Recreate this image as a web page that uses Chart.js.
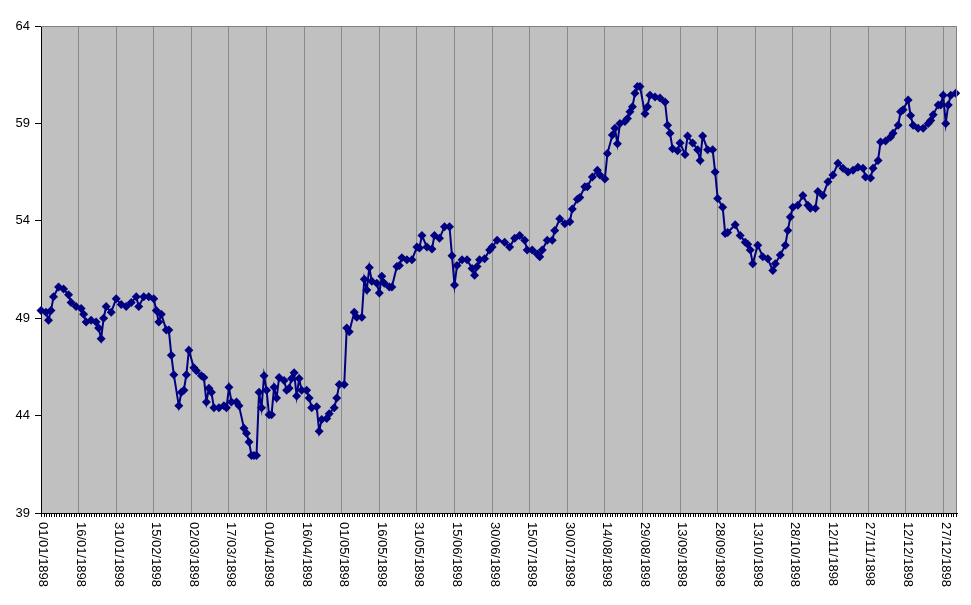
<!DOCTYPE html>
<html>
<head>
<meta charset="utf-8">
<script src="https://cdn.jsdelivr.net/npm/chart.js@4/dist/chart.umd.min.js"></script>
<style>
html,body{margin:0;padding:0;background:#fff;}
canvas{display:block;}
</style>
</head>
<body>
<canvas id="c" width="971" height="605"></canvas>
<script>
// Day of year (0 = 01/01/1898) for each observation
const days = [
  0,2,3,4,5,7,9,11,12,14,16,17,18,20,22,23,24,25,26,28,30,32,34,36,38,39,41,43,45,46,47,48,50,51,
  52,53,55,56,57,58,59,61,62,64,65,66,67,68,69,71,73,74,75,76,78,79,81,82,83,84,85,86,87,88,89,90,
  91,92,93,94,95,97,98,99,100,101,102,103,104,106,107,108,110,111,112,114,115,117,118,119,121,122,
  123,125,126,128,129,130,131,132,134,135,136,137,139,140,142,143,144,146,148,150,151,152,154,156,
  157,159,161,163,164,165,166,168,170,172,173,174,175,177,179,180,182,185,187,189,191,193,194,196,
  198,199,200,202,204,205,207,209,211,212,214,215,217,218,220,222,223,225,226,228,229,230,231,233,
  234,235,236,237,238,239,241,242,243,245,247,249,250,251,252,254,255,257,258,260,262,263,264,266,
  268,269,270,272,273,274,277,279,281,282,283,284,286,288,290,292,293,295,297,298,299,300,302,304,
  306,307,309,310,312,314,316,318,320,322,324,326,328,329,331,332,334,335,337,339,340,342,343,344,
  346,347,348,350,352,354,355,356,358,359,360,361,362,363,365
];
const values = [
  49.4,49.3,48.9,49.4,50.1,50.6,50.5,50.2,49.8,49.6,49.5,49.2,48.8,48.9,48.8,48.5,47.95,49.0,49.6,49.3,50.0,49.7,49.6,49.8,50.1,49.6,50.1,50.1,50.0,49.4,48.8,49.2,48.4,48.4,
  47.1,46.1,44.5,45.2,45.3,46.1,47.35,46.45,46.3,46.05,45.95,44.7,45.4,45.2,44.4,44.4,44.5,44.4,45.45,44.7,44.7,44.5,43.35,43.1,42.65,41.95,41.95,41.95,45.2,44.4,46.05,45.3,
  44.05,44.05,45.45,44.9,45.95,45.8,45.3,45.4,45.9,46.2,45.0,45.9,45.3,45.3,44.9,44.4,44.45,43.2,43.8,43.85,44.1,44.4,44.9,45.6,45.6,48.5,
  48.3,49.3,49.05,49.05,51.0,50.45,51.6,50.9,50.8,50.3,51.15,50.8,50.6,50.6,51.65,51.7,52.1,52.0,52.0,52.65,52.6,53.25,52.65,52.55,
  53.25,53.1,53.7,53.7,52.2,50.7,51.7,52.0,52.0,51.55,51.2,51.65,52.0,52.05,52.5,52.65,53.0,52.9,52.65,53.1,53.25,53.0,52.5,52.5,
  52.3,52.15,52.5,53.0,53.0,53.5,54.1,53.85,53.95,54.6,55.1,55.2,55.75,55.75,56.25,56.6,56.35,56.15,57.45,58.4,58.75,57.95,59.0,59.1,
  59.25,59.6,59.85,60.55,60.9,60.9,59.5,59.85,60.45,60.35,60.3,60.1,58.9,58.5,57.7,57.6,58.0,57.4,58.35,58.0,57.65,57.1,58.35,57.65,
  57.65,56.5,55.15,54.7,53.35,53.4,53.8,53.25,52.9,52.8,52.5,51.8,52.75,52.15,52.05,51.45,51.8,52.25,52.75,53.5,54.2,54.7,54.8,55.3,
  54.8,54.65,54.65,55.5,55.3,56.0,56.35,56.95,56.7,56.5,56.6,56.75,56.7,56.25,56.2,56.7,57.1,58.05,58.1,58.3,58.5,58.9,59.6,59.7,
  60.2,59.4,58.9,58.75,58.75,59.0,59.15,59.45,59.95,59.95,60.45,59.0,59.95,60.45,60.55
];
const tickDays = [0,15,30,45,60,75,90,105,120,135,150,165,180,195,210,225,240,255,270,285,300,315,330,345,360];
const tickLabels = [
  '01/01/1898','16/01/1898','31/01/1898','15/02/1898','02/03/1898','17/03/1898','01/04/1898',
  '16/04/1898','01/05/1898','16/05/1898','31/05/1898','15/06/1898','30/06/1898','15/07/1898',
  '30/07/1898','14/08/1898','29/08/1898','13/09/1898','28/09/1898','13/10/1898','28/10/1898',
  '12/11/1898','27/11/1898','12/12/1898','27/12/1898'
];
const yTicks = [39,44,49,54,59,64];

const FONT = "'Liberation Sans', Arial, sans-serif";

const excelPlugin = {
  id: 'excelFrame',
  beforeDraw(chart) {
    const {ctx, chartArea: a} = chart;
    ctx.save();
    ctx.fillStyle = '#ffffff';
    ctx.fillRect(0, 0, chart.width, chart.height);
    ctx.fillStyle = '#C0C0C0';
    ctx.fillRect(a.left, a.top, a.right - a.left, a.bottom - a.top);
    ctx.restore();
  },
  afterDraw(chart) {
    const {ctx, chartArea: a} = chart;
    const xs = chart.scales.x;
    ctx.save();
    // gray top/right frame
    ctx.strokeStyle = '#808080';
    ctx.lineWidth = 1;
    ctx.beginPath();
    ctx.moveTo(a.left, a.top + 0.5);
    ctx.lineTo(a.right - 0.5, a.top + 0.5);
    ctx.lineTo(a.right - 0.5, a.bottom);
    ctx.stroke();
    // daily minor ticks below the x axis
    ctx.strokeStyle = '#000';
    ctx.beginPath();
    for (let d = 0; d <= 365; d++) {
      const px = Math.round(xs.getPixelForValue(d)) + 0.5;
      ctx.moveTo(px, a.bottom);
      ctx.lineTo(px, a.bottom + 4);
    }
    ctx.stroke();
    // rotated (clockwise) date labels
    ctx.fillStyle = '#000';
    ctx.font = '13px ' + FONT;
    ctx.textAlign = 'left';
    ctx.textBaseline = 'middle';
    tickDays.forEach((d, i) => {
      const px = xs.getPixelForValue(d);
      ctx.save();
      ctx.translate(px + 2, a.bottom + 9);
      ctx.rotate(Math.PI / 2);
      ctx.fillText(tickLabels[i], 0, 0);
      ctx.restore();
    });
    ctx.restore();
  }
};

new Chart(document.getElementById('c'), {
  type: 'line',
  data: {
    datasets: [{
      data: days.map((d, i) => ({x: d, y: values[i]})),
      borderColor: '#000080',
      backgroundColor: '#000080',
      borderWidth: 2,
      pointStyle: 'rectRot',
      pointRadius: 4.5,
      pointBorderWidth: 0,
      pointBackgroundColor: '#000080',
      tension: 0,
      fill: false,
      clip: 6
    }]
  },
  options: {
    responsive: false,
    animation: false,
    devicePixelRatio: 1,
    layout: {padding: {top: 26, right: 14, left: 0, bottom: 0}},
    plugins: {legend: {display: false}, tooltip: {enabled: false}, title: {display: false}},
    scales: {
      x: {
        type: 'linear',
        min: 0,
        max: 365.5,
        afterBuildTicks(s) { s.ticks = tickDays.map(v => ({value: v})); },
        ticks: {display: false},
        grid: {color: '#8a8a8a', lineWidth: 1, drawTicks: false, drawOnChartArea: true},
        border: {display: true, color: '#000', width: 1},
        afterFit(s) { s.height = 92; }
      },
      y: {
        type: 'linear',
        min: 39,
        max: 64,
        afterBuildTicks(s) { s.ticks = yTicks.map(v => ({value: v})); },
        ticks: {color: '#000', font: {family: FONT, size: 13}, padding: 5},
        grid: {drawOnChartArea: false, drawTicks: true, tickLength: 6, color: '#000'},
        border: {display: true, color: '#000', width: 1},
        afterFit(s) { s.width = 41; }
      }
    }
  },
  plugins: [excelPlugin]
});
</script>
</body>
</html>
